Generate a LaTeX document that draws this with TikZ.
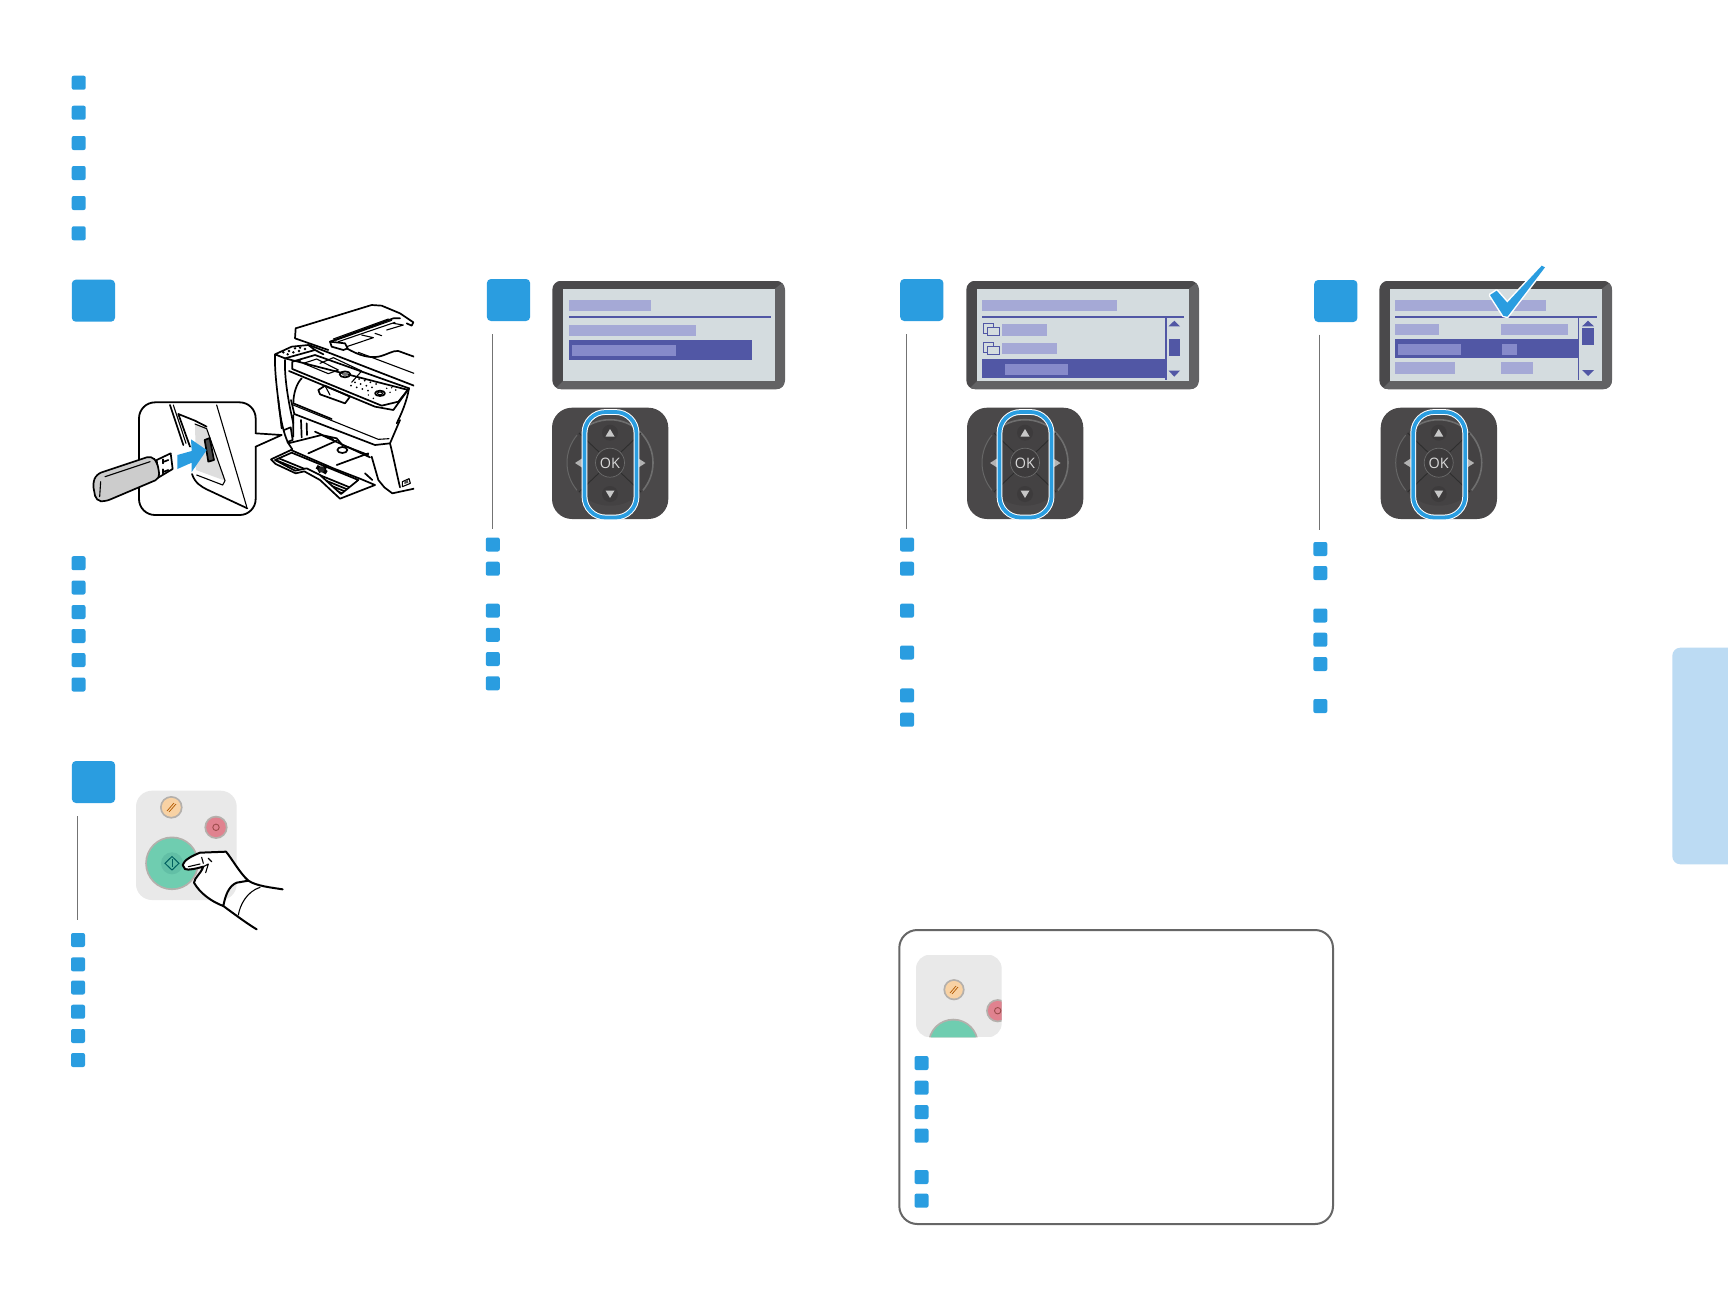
\documentclass[tikz,border=0pt]{standalone}
\usepackage{fontspec}
\setmainfont{Open Sans}
\definecolor{sqblue}{HTML}{2A9DE0}
\definecolor{tabblue}{HTML}{BCDBF3}
\definecolor{lcdout}{HTML}{4A494B}
\definecolor{lcdedge}{HTML}{626264}
\definecolor{lcdscr}{HTML}{D4DCDF}
\definecolor{lcdind}{HTML}{5157A5}
\definecolor{lcdbar}{HTML}{A5A9D6}
\definecolor{lcdsel}{HTML}{868ACA}
\definecolor{padbg}{HTML}{4A4849}
\definecolor{paddisk}{HTML}{444243}
\definecolor{padbtn}{HTML}{3D3B3C}
\definecolor{padring}{HTML}{6E6E6E}
\definecolor{paneld}{HTML}{E9E9E9}
\definecolor{btnor}{HTML}{F8D2A4}
\definecolor{btnre}{HTML}{E0828F}
\definecolor{btngr}{HTML}{6FCDB0}
\definecolor{btngd}{HTML}{62BFA6}
\definecolor{btnring}{HTML}{B4B0AC}
\tikzset{
  smallsq/.style={fill=sqblue,rounded corners=1pt,minimum size=7pt,inner sep=0pt,draw=none},
  bigsq/.style={fill=sqblue,rounded corners=2pt,minimum width=21.6pt,minimum height=21pt,inner sep=0pt,draw=none},
  rulegray/.style={draw=black!55,line width=.55pt},
  ink/.style={draw=black,line width=.85pt,line join=round,line cap=round},
  thin ink/.style={draw=black,line width=.55pt,line join=round,line cap=round},
}
\newcommand\lcdframe[1]{%
  \begin{scope}
    \clip[rounded corners=4.5pt] (552.3+#1,280.7) rectangle (785+#1,389.3);
    \fill[lcdout] (552.3+#1,280.7) rectangle (785+#1,389.3);
    \fill[lcdedge] (563.3+#1,380.7) -- (552+#1,392) -- (786+#1,392) -- (786+#1,280) -- (775+#1,288.7) -- (775+#1,380.7) -- cycle;
    \fill[lcdscr] (563.3+#1,288.7) rectangle (775+#1,380.7);
  \end{scope}}
\newcommand\navpad[1]{%
  \begin{scope}[shift={(#1,0)}]
    \fill[padbg,rounded corners=10pt] (552,407.7) rectangle (668.3,519);
    \fill[paddisk] (610,462.7) circle (43);
    \draw[padring,line width=.8pt] (610,462.7) ++(-40:43) arc (-40:-130:43);
    \draw[padring,line width=.8pt] (610,462.7) ++(-40:43) arc (-40:40:43);
    \draw[black!60,line width=.5pt] (610,462.7) ++(140:43) arc (140:220:43);
    \draw[black!82,line width=.45pt] (599,452) -- (579,433) (621,452) -- (641,433) (599,473) -- (579,492) (621,473) -- (641,492);
    \fill[padbtn] (610,432.7) circle (8) (610,494) circle (8);
    \fill[padbtn] (610,462.7) circle (14.5);
    \draw[black!58,line width=.35pt] (610,462.7) circle (14.5);
    \fill[black!22] (610,429) -- (614.5,436.5) -- (605.5,436.5) -- cycle;
    \fill[black!22] (610,498) -- (614.5,490.5) -- (605.5,490.5) -- cycle;
    \fill[black!30] (575,463) -- (582,458.5) -- (582,467.5) -- cycle;
    \fill[black!30] (645.5,463) -- (638.5,458.5) -- (638.5,467.5) -- cycle;
    \draw[white,line width=2.9pt,rounded corners=10.5pt] (584.5,412) rectangle (636.5,517.5);
    \draw[sqblue,line width=1.9pt,rounded corners=10.5pt] (584.5,412) rectangle (636.5,517.5);
    \node[text=black!15,font=\fontsize{7.2}{7.2}\selectfont,inner sep=0pt] (ok#1) at (610,463) {OK};
  \end{scope}}
\newcommand\folderico[2]{%
  \draw[lcdind,line width=.45pt] (#1,#2) rectangle (#1+10,#2+10);
  \draw[lcdind,fill=lcdscr,line width=.45pt] (#1+4,#2+3.5) rectangle (#1+16,#2+12);}
\newcommand\btn[4]{%
  \fill[btnring] (#1,#2) circle (#3+1.8);
  \fill[#4] (#1,#2) circle (#3);}
\begin{document}
\begin{tikzpicture}[x=.5pt,y=-.5pt]
\useasboundingbox (0,0) rectangle (1728,1296);
\fill[white] (0,0) rectangle (1728,1296);

\fill[tabblue,rounded corners=4pt] (1672.3,647.7) rectangle (1745,864.3);

\foreach \x/\y [count=\i] in {
 78.7/82.7,78.7/112.7,78.7/143,78.7/173,78.7/203,78.7/233.3,
 78.5/563.2,78.5/587.5,78.5/612,78.5/636,78.5/660,78.5/684.5,
 492.8/544.5,492.8/568.7,492.8/610.6,492.8/634.8,492.8/659,492.8/683.3,
 907/544.5,907/568.7,907/610.6,907/652.5,907/695.4,907/719.7,
 1320.3/549,1320.3/573,1320.3/615.5,1320.3/639.7,1320.3/664,1320.3/706,
 78/940,78/964.3,78/987.5,78/1011.7,78/1036,78/1060,
 921.5/1063,921.5/1087.7,921.5/1112,921.5/1135.6,921.5/1177,921.5/1200.6}
  \node[smallsq] (sq\i) at (\x,\y) {};

\node[bigsq] (step1) at (93.4,300.7) {};
\node[bigsq] (step2) at (508.5,300) {};
\node[bigsq] (step3) at (921.8,300) {};
\node[bigsq] (step4) at (1335.8,301) {};
\node[bigsq] (step5) at (93.5,782) {};

\coordinate (r2a) at (492.7,334); \coordinate (r2b) at (492.7,529);
\coordinate (r3a) at (906.3,334); \coordinate (r3b) at (906.3,529);
\coordinate (r4a) at (1319.3,334.7); \coordinate (r4b) at (1319.3,530);
\coordinate (r5a) at (77.3,816); \coordinate (r5b) at (77.3,920);
\draw[rulegray] (r2a)--(r2b) (r3a)--(r3b) (r4a)--(r4b) (r5a)--(r5b);

% LCD 2
\lcdframe{0}
\fill[lcdbar] (569,300) rectangle (651,310.7);
\draw[lcdind,line width=.9pt] (569,317) -- (771,317);
\fill[lcdbar] (569,325) rectangle (696,335.7);
\fill[lcdind] (569,340) rectangle (752,360);
\fill[lcdsel] (572,345) rectangle (676,356);
\navpad{0}

% LCD 3
\lcdframe{414}
\fill[lcdbar] (982,300) rectangle (1117,311);
\fill[lcdind] (982,359.3) rectangle (1166,378);
\draw[lcdind,line width=.9pt] (982,317) -- (1184,317);
\draw[lcdind,line width=.7pt] (1166,317) -- (1166,380);
\fill[lcdbar] (1002,324) rectangle (1047,335.7);
\fill[lcdbar] (1002,343) rectangle (1057,354);
\fill[lcdsel] (1005,364) rectangle (1068,375);
\folderico{983.5}{323.5}
\folderico{983.5}{342.5}
\fill[lcdind] (1174.3,320.7) -- (1180,326.4) -- (1168.5,326.4) -- cycle;
\fill[lcdind] (1169,339) rectangle (1180,356);
\fill[lcdind] (1174.3,376.7) -- (1180,370.6) -- (1168.5,370.6) -- cycle;
\navpad{415}

% LCD 4
\lcdframe{827}
\fill[lcdbar] (1395,300) rectangle (1546,311);
\draw[lcdind,line width=.9pt] (1395,317) -- (1597,317);
\draw[lcdind,line width=.7pt] (1578.3,317) -- (1578.3,380);
\fill[lcdbar] (1395,324) rectangle (1439,335);
\fill[lcdbar] (1501,324) rectangle (1568,335);
\fill[lcdind] (1395,339) rectangle (1578,358);
\fill[lcdsel] (1398,344) rectangle (1461,355);
\fill[lcdsel] (1502,344) rectangle (1517,355);
\fill[lcdbar] (1395,362) rectangle (1455,374);
\fill[lcdbar] (1501,362) rectangle (1533,374);
\fill[lcdind] (1588,320.7) -- (1594,326.4) -- (1582,326.4) -- cycle;
\fill[lcdind] (1582,328) rectangle (1594,345);
\fill[lcdind] (1588,376) -- (1594,370) -- (1582,370) -- cycle;
\navpad{828.7}
% check mark
\filldraw[fill=white,draw=white,line width=1.5pt,line join=round]
  (1490,295) -- (1496.7,290.7) -- (1507.3,302.7) -- (1541.7,265.7) -- (1545,267.3) -- (1507.3,316.7) -- (1503.3,315.7) -- cycle;
\fill[sqblue]
  (1490,295) -- (1496.7,290.7) -- (1507.3,302.7) -- (1541.7,265.7) -- (1545,267.3) -- (1507.3,316.7) -- (1503.3,315.7) -- cycle;

% start panel 5
\fill[paneld,rounded corners=8pt] (136,790.7) rectangle (236.7,900);
\btn{171.3}{807.3}{9.5}{btnor}
\draw[orange!70!black,line width=.35pt] (167,811) -- (174,803) (169,812) -- (176,804);
\btn{216}{827.3}{9.8}{btnre}
\draw[red!45!black!70,line width=.45pt] (216,827.3) circle (3.2);
\btn{172}{863.3}{25}{btngr}
\fill[btngd] (172,863.3) circle (11);
\draw[teal!75!black,line width=.5pt] (172,856.5) -- (179,863.3) -- (172,870) -- (165,863.3) -- cycle;
\draw[teal!75!black,line width=.5pt] (172,859) -- (172,867);

% hand
\begin{scope}[shift={(60,750)},x=.16667pt,y=-.16667pt]
  \filldraw[fill=white,ink,line width=1pt]
    (368,345) .. controls (372,330) and (395,318) .. (420,308) -- (498,305)
    .. controls (515,325) and (540,370) .. (565,392)
    -- (530,398) .. controls (505,408) and (495,440) .. (490,468)
    .. controls (455,455) and (420,430) .. (402,398)
    .. controls (405,380) and (420,375) .. (430,350)
    .. controls (410,355) and (385,362) .. (375,357) -- cycle;
  \draw[ink,line width=1pt] (565,392) .. controls (590,408) and (630,412) .. (668,418);
  \draw[ink,line width=1pt] (490,468) .. controls (520,490) and (560,520) .. (590,538);
  \draw[thin ink] (535,495) .. controls (540,465) and (560,425) .. (600,412);
  \draw[thin ink] (430,350) -- (445,342) -- (437,368);
  \draw[thin ink] (425,322) -- (430,340);
  \draw[thin ink] (445,325) -- (455,335) (385,350) -- (420,342);
\end{scope}

% info box
\draw[black!60,line width=1pt,rounded corners=9pt] (899.3,930) rectangle (1333,1224);
\begin{scope}
  \clip[rounded corners=7pt] (916,954.7) rectangle (1001.7,1037.3);
  \fill[paneld] (916,954.7) rectangle (1001.7,1037.3);
  \btn{954}{989.7}{8.8}{btnor}
  \draw[orange!70!black,line width=.35pt] (950,993) -- (956,986) (952,994) -- (958,987);
  \btn{997.7}{1010.7}{9.8}{btnre}
  \draw[red!45!black!70,line width=.45pt] (997.7,1010.7) circle (3.2);
  \btn{953.3}{1044}{23.5}{btngr}
\end{scope}

% printer + USB
\begin{scope}[shift={(60,270)},x=.16667pt,y=-.16667pt]
  \clip (0,0) rectangle (1062,780);
  \begin{scope}[shift={(615,75)}]
    \draw[ink] (92,100) -- (320,30) -- (350,32) -- (405,55) -- (445,82) -- (440,92) -- (425,85);
    \draw[ink] (92,100) -- (90,130) -- (190,165);
    \draw[ink] (195,140) -- (385,70) -- (405,70);
    \draw[ink] (195,140) -- (240,145) -- (248,160) -- (235,165) -- (200,155) -- cycle;
    \draw[thin ink] (205,132) -- (370,72) (212,136) -- (380,76) (220,140) -- (390,82);
    \draw[thin ink] (245,155) -- (325,128) -- (290,120) (365,105) -- (415,90) -- (385,85) (330,115) -- (350,122);
    \draw[ink] (245,160) .. controls (280,180) and (310,190) .. (340,185) .. controls (365,180) and (385,165) .. (400,168) -- (447,185);
    \draw[thin ink] (280,172) -- (447,235);
    \draw[ink] (132,150) -- (447,272);
    \draw[ink] (30,178) -- (80,155) -- (130,150) -- (150,165) -- (60,190) -- cycle;
    \foreach \a/\b in {55/172,72/168,90/160,105/158,68/178,85/172,102/168,120/162}
      \fill[black] (\a,\b) circle (4);
    \draw[ink] (60,190) -- (430,285) (150,165) -- (175,178);
    \draw[ink] (82,200) -- (150,180) -- (432,280) -- (400,320) -- (350,332) -- (82,222) -- cycle;
    \fill[black] (103,198) circle (5);
    \draw[thin ink] (115,205) -- (155,192) -- (220,225) -- (190,236) -- cycle;
    \draw[thin ink] (165,205) -- (205,188) -- (290,228) -- (260,262);
    \draw[ink] (240,238) ellipse (16 and 9);
    \fill[black!55] (240,238) ellipse (9 and 5);
    \foreach \a in {0,1,2,3}\foreach \b in {0,1,2}
      \fill[black] (282+\a*17+\b*-12,252+\a*5+\b*10) circle (3);
    \draw[ink] (345,295) ellipse (15 and 8);
    \draw[thin ink] (345,295) ellipse (8 and 4);
    \foreach \a/\b in {310/300,325/310,375/292,392/285,365/280,380/278}
      \fill[black] (\a,\b) circle (2.5);
    \draw[ink] (30,178) .. controls (28,240) and (40,310) .. (50,400);
    \draw[ink] (60,195) .. controls (58,250) and (70,320) .. (85,385);
    \draw[ink] (110,250) .. controls (95,265) and (85,295) .. (85,325) -- (200,372);
    \draw[ink] (160,285) -- (180,272) -- (255,305) -- (240,325) -- (165,298) -- cycle;
    \draw[thin ink] (180,272) -- (195,300);
    \draw[ink] (72,228) -- (330,335) -- (385,345) -- (432,280);
    \draw[ink] (432,280) .. controls (425,320) and (410,355) .. (395,385);
  \end{scope}
  \begin{scope}[shift={(615,390)}]
    \draw[ink] (78,0) -- (88,42) -- (330,135) -- (375,130) -- (405,60);
    \draw[thin ink] (82,14) -- (340,118) -- (372,116);
    \draw[ink] (40,0) .. controls (45,50) and (55,100) .. (70,130) -- (82,148);
    \draw[ink] (85,45) -- (85,110) (108,60) -- (110,112) (125,70) -- (126,105);
    \draw[ink] (375,130) .. controls (385,170) and (395,220) .. (405,262);
    \draw[ink] (320,170) -- (340,240) -- (358,262) -- (382,280) -- (447,266);
    \draw[ink] (70,130) -- (170,105) -- (315,172);
    \draw[ink] (130,160) -- (215,122);
    \draw[ink] (215,195) -- (310,160);
    \draw[ink] (150,95) -- (205,120) (170,105) -- (215,115) -- (232,135) -- (310,165);
    \draw[ink] (232,150) ellipse (15 and 9);
    \draw[ink] (300,220) -- (322,240);
    \filldraw[fill=white,ink] (18,178) -- (78,150) -- (205,205) -- (290,238) -- (330,255) -- (225,296) -- (165,240) -- (118,214) -- (92,220) -- (32,192) -- cycle;
    \draw[ink] (30,180) -- (80,158) -- (280,240) -- (228,282) -- (165,225) -- (125,205) -- (90,212) -- cycle;
    \begin{scope}
      \clip (30,180) -- (80,158) -- (280,240) -- (228,282) -- (165,225) -- (125,205) -- (90,212) -- cycle;
      \foreach \k in {8,17,...,80}
        \draw[ink] (0,150+\k) -- (320,281+\k);
    \end{scope}
    \draw[line width=2pt,black] (155,200) -- (185,218) (160,214) -- (182,202);
    \fill[black!85] (170,208) circle (9);
    \draw[thin ink] (412,245) -- (432,236) -- (436,250) -- (412,260) -- cycle;
    \fill[black!70] (418,243) -- (428,240) -- (430,248) -- (418,252) -- cycle;
  \end{scope}
  \draw[ink] (672,480) -- (692,472) -- (698,510) -- (682,516);
  \coordinate (tipA) at (665,495);
  \filldraw[fill=white,ink,line width=.9pt,rounded corners=8pt]
    (237,397) rectangle (587,735);
  \fill[white] (580,492) rectangle (592,528);
  \fill[white] (587,490) -- (tipA) -- (587,530) -- cycle;
  \draw[ink] (587,490) -- (tipA) -- (587,530);
  \draw[ink] (330,405) -- (370,525);
  \draw[thin ink] (340,405) -- (378,520);
  \draw[ink] (355,432) -- (405,452) -- (440,470);
  \draw[ink] (355,432) -- (390,530);
  \fill[black!13] (405,462) -- (440,476) -- (495,632) -- (408,600) -- cycle;
  \draw[thin ink] (405,462) -- (440,476) -- (495,632) -- (488,645) -- (410,615);
  \draw[thin ink] (470,405) -- (560,710);
  \draw[ink] (396,612) .. controls (405,640) and (425,650) .. (440,658) -- (562,715);
  \fill[black!70] (434,510) -- (449,504) -- (462,570) -- (445,575) -- cycle;
  \draw[ink] (434,510) -- (449,504) -- (462,570) -- (445,575) -- cycle;
  \fill[sqblue] (352,555) -- (395,543) -- (393,508) -- (440,540) -- (395,606) -- (395,578) -- (352,597) -- cycle;
  \filldraw[fill=white,ink] (290,570) -- (332,550) -- (338,597) -- (296,622) -- cycle;
  \draw[ink] (312,575) -- (325,570) (312,605) -- (325,600);
  \draw[ink] (308,568) -- (308,580) (308,598) -- (308,610);
  \filldraw[fill=black!20,ink,rounded corners=2.5pt]
    (98,640) -- (110,612) -- (275,557) -- (292,578) -- (300,625) -- (135,695) -- (108,692) -- cycle;
  \draw[thin ink] (135,620) -- (270,575) (122,635) -- (119,680);
\end{scope}
\end{tikzpicture}
\end{document}
